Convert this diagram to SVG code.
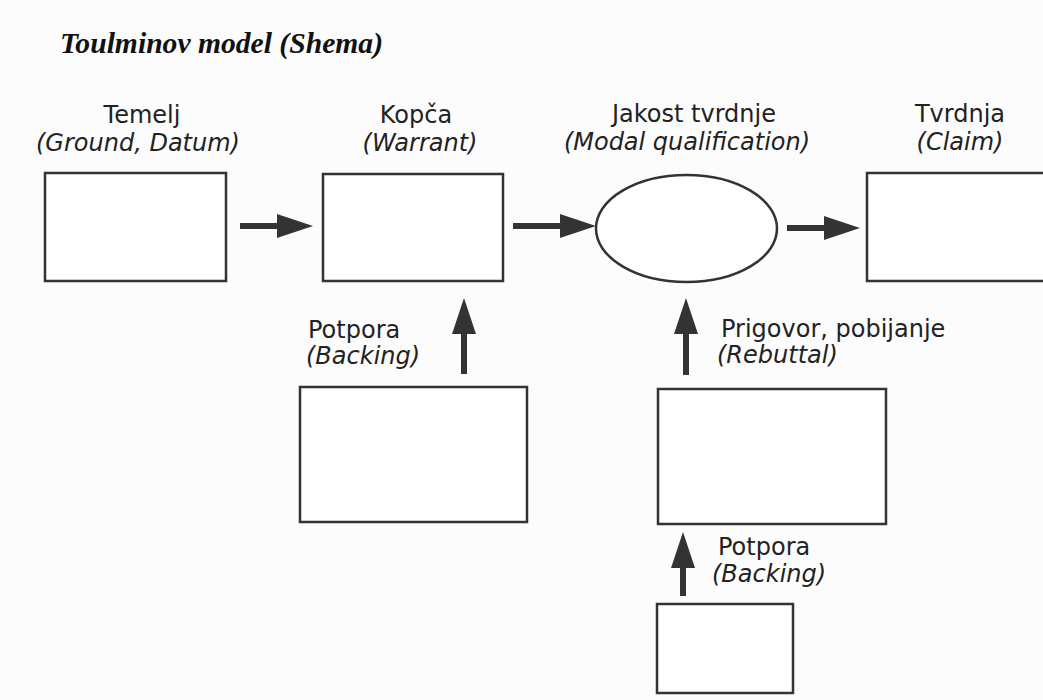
<svg xmlns="http://www.w3.org/2000/svg" width="1043" height="700" viewBox="0 0 1043 700">
  <defs>
    <marker id="head" viewBox="0 0 36 24" refX="6" refY="12" markerWidth="36" markerHeight="24" markerUnits="userSpaceOnUse" orient="auto">
      <path d="M0,0 L36,12 L0,24 z" fill="#333333"/>
    </marker>
    <style>
      .box { fill: #ffffff; stroke: #333333; stroke-width: 2.5; }
      .lbl { font-family: "DejaVu Sans", "Liberation Sans", sans-serif; font-size: 24px; fill: #222222; }
      .it { font-style: italic; }
      .mid { text-anchor: middle; }
      .conn { stroke: #333333; stroke-width: 6; fill: none; marker-end: url(#head); }
      .title { font-family: "Liberation Serif", "DejaVu Serif", serif; font-size: 30px; font-weight: bold; font-style: italic; fill: #111111; }
    </style>
  </defs>
  <rect x="0" y="0" width="1043" height="700" fill="#fcfcfc"/>

  <text class="title" x="60" y="53" textLength="323" lengthAdjust="spacingAndGlyphs">Toulminov model (Shema)</text>

  <g id="ground">
    <rect class="box" x="45" y="173" width="181" height="108"/>
    <text class="lbl mid" x="142" y="123">Temelj</text>
    <text class="lbl it mid" x="138" y="151">(Ground, Datum)</text>
  </g>

  <g id="warrant">
    <rect class="box" x="323" y="174" width="180" height="107"/>
    <text class="lbl mid" x="416" y="123">Kopča</text>
    <text class="lbl it mid" x="420" y="151">(Warrant)</text>
  </g>

  <g id="qualifier">
    <ellipse class="box" cx="686.5" cy="228.5" rx="90.5" ry="53.5"/>
    <text class="lbl mid" x="694" y="122">Jakost tvrdnje</text>
    <text class="lbl it mid" x="687" y="150">(Modal qualification)</text>
  </g>

  <g id="claim">
    <rect class="box" x="867" y="173" width="190" height="108"/>
    <text class="lbl mid" x="960" y="122">Tvrdnja</text>
    <text class="lbl it mid" x="960" y="150">(Claim)</text>
  </g>

  <g id="backing1">
    <rect class="box" x="300" y="387" width="227" height="135"/>
    <text class="lbl" x="308" y="338">Potpora</text>
    <text class="lbl it" x="306" y="364">(Backing)</text>
  </g>

  <g id="rebuttal">
    <rect class="box" x="658" y="389" width="228" height="135"/>
    <text class="lbl" x="721" y="337">Prigovor, pobijanje</text>
    <text class="lbl it" x="717" y="363">(Rebuttal)</text>
  </g>

  <g id="backing2">
    <rect class="box" x="657" y="604" width="136" height="89"/>
    <text class="lbl" x="718" y="555">Potpora</text>
    <text class="lbl it" x="712" y="582">(Backing)</text>
  </g>

  <g id="connectors">
    <line class="conn" x1="240" y1="226" x2="283" y2="226"/>
    <line class="conn" x1="513" y1="226" x2="566" y2="226"/>
    <line class="conn" x1="787" y1="228" x2="830" y2="228"/>
    <line class="conn" x1="464" y1="374" x2="464" y2="328"/>
    <line class="conn" x1="686" y1="375" x2="686" y2="328"/>
    <line class="conn" x1="683" y1="596" x2="683" y2="562"/>
  </g>
</svg>
